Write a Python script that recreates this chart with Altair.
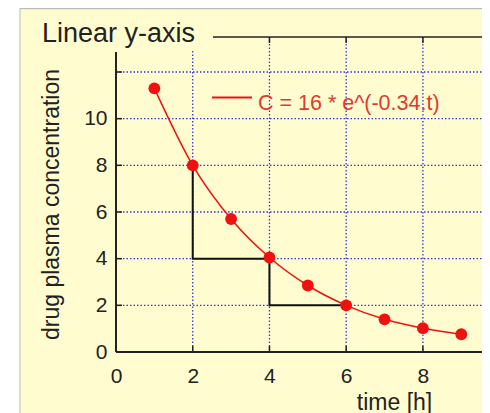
import altair as alt
import pandas as pd

# ---- data ----
time_h = [1, 2, 3, 4, 5, 6, 7, 8, 9]
conc = [11.3, 8.0, 5.7, 4.05, 2.85, 2.0, 1.4, 1.02, 0.76]

x_tick_values = [0, 2, 4, 6, 8]
y_tick_values = [0, 2, 4, 6, 8, 10]
grid_x = [2, 4, 6, 8]
grid_y = [2, 4, 6, 8, 10, 12]
top_ticks_x = [4, 6, 8]

step_t = [2, 2, 4, 4, 6]
step_c = [8, 4, 4, 2, 2]

title_text = "Linear y-axis"
legend_text = "C = 16 * e^(-0.34.t)"
x_title = "time [h]"
y_title = "drug plasma concentration"

# ---- styling ----
W, H = 366, 315
CREAM = "#FFFDD0"
RED = "#F01010"
BLUE = "#3535E0"
FRAME = "#222222"

xs = alt.Scale(domain=[0, 9.54], nice=False, zero=False)
ys = alt.Scale(domain=[0, 13.5], nice=False, zero=False)

xaxis = alt.Axis(values=x_tick_values, title=x_title, labelFlush=False,
                 labelPadding=13, titleX=278, titleY=39, titleBaseline="top",
                 titleAlign="center")
yaxis = alt.Axis(values=y_tick_values, title=y_title, labelFlush=False,
                 labelPadding=9, titleX=-65, titleY=167, titleAngle=270,
                 titleBaseline="middle", titleAlign="center")

X = alt.X("t:Q", scale=xs, axis=xaxis)
Y = alt.Y("c:Q", scale=ys, axis=yaxis)

one = pd.DataFrame({"k": [0]})
pts = pd.DataFrame({"t": time_h, "c": conc})
gx = pd.DataFrame({"t": grid_x})
gy = pd.DataFrame({"c": grid_y})
bt = pd.DataFrame({"t": grid_x})
tt = pd.DataFrame({"t": top_ticks_x})
steps = pd.DataFrame({"t": step_t, "c": step_c, "i": list(range(len(step_t)))})

BOTTOM = 62

# outer page decoration (white strip + grey border of the cream panel)
white_strip = alt.Chart(one).mark_rect(color="white").encode(
    x=alt.value(-108), x2=alt.value(-96), y=alt.value(-29), y2=alt.value(H + BOTTOM))
border_v = alt.Chart(one).mark_rule(color="#BBBBBB", strokeWidth=1).encode(
    x=alt.value(-96), y=alt.value(-29), y2=alt.value(H + BOTTOM))
border_h = alt.Chart(one).mark_rule(color="#BBBBBB", strokeWidth=1.5).encode(
    y=alt.value(-28.5), x=alt.value(-96), x2=alt.value(W))

grid_v = alt.Chart(gx).mark_rule(color=BLUE, strokeDash=[1.5, 2], strokeWidth=1.3).encode(
    x=X, y=alt.value(0), y2=alt.value(H))
grid_h = alt.Chart(gy).mark_rule(color=BLUE, strokeDash=[1.5, 2], strokeWidth=1.3).encode(
    y=Y, x=alt.value(0), x2=alt.value(W))

left_ticks = alt.Chart(gy).mark_rule(color=FRAME, strokeWidth=1.5).encode(
    y=Y, x=alt.value(0), x2=alt.value(6))
bottom_ticks = alt.Chart(bt).mark_rule(color=FRAME, strokeWidth=1.5).encode(
    x=X, y=alt.value(H - 6), y2=alt.value(H))
top_ticks = alt.Chart(tt).mark_rule(color=FRAME, strokeWidth=1.5).encode(
    x=X, y=alt.value(0), y2=alt.value(6))

left_axis = alt.Chart(one).mark_rule(color=FRAME, strokeWidth=2).encode(
    x=alt.value(0), y=alt.value(15), y2=alt.value(H))
bottom_axis = alt.Chart(one).mark_rule(color=FRAME, strokeWidth=2).encode(
    y=alt.value(H), x=alt.value(0), x2=alt.value(W))
top_frame = alt.Chart(one).mark_rule(color=FRAME, strokeWidth=1.5).encode(
    y=alt.value(0), x=alt.value(97), x2=alt.value(W))

step_line = alt.Chart(steps).mark_line(color="#111111", strokeWidth=2).encode(
    x=X, y=Y, order="i:Q")
curve = alt.Chart(pts).mark_line(color=RED, strokeWidth=1.5, interpolate="monotone").encode(
    x=X, y=Y)
dots = alt.Chart(pts).mark_circle(color=RED, size=140, opacity=1).encode(x=X, y=Y)

legend_line = alt.Chart(one).mark_rule(color=RED, strokeWidth=2).encode(
    x=alt.value(96), x2=alt.value(136), y=alt.value(60.5))
legend_lbl = alt.Chart(one).mark_text(
    text=legend_text, color="#E03A30", fontSize=21.5, align="left", baseline="alphabetic"
).encode(x=alt.value(142), y=alt.value(73))

title_box = alt.Chart(one).mark_rect(color=CREAM).encode(
    x=alt.value(-81), x2=alt.value(95), y=alt.value(-27), y2=alt.value(14))
title_lbl = alt.Chart(one).mark_text(
    text=title_text, color="#222222", fontSize=27, align="left", baseline="alphabetic"
).encode(x=alt.value(-74), y=alt.value(4.5))

chart = alt.layer(
    white_strip, border_v, border_h,
    grid_h, grid_v,
    left_ticks, bottom_ticks, top_ticks,
    left_axis, bottom_axis, top_frame,
    step_line, curve, dots,
    legend_line, legend_lbl,
    title_box, title_lbl,
).properties(
    width=W, height=H,
    autosize=alt.AutoSizeParams(type="none"),
    padding={"left": 108, "top": 29, "right": 0, "bottom": BOTTOM},
    background=CREAM,
).configure(
    font="Liberation Sans",
).configure_axis(
    domain=False, ticks=False, grid=False,
    labelFontSize=21, labelColor="#222222",
    titleFontSize=23, titleFontWeight="normal", titleColor="#222222",
).configure_view(stroke=None)

chart.save("out.html", embed_options={"renderer": "svg", "actions": False})
